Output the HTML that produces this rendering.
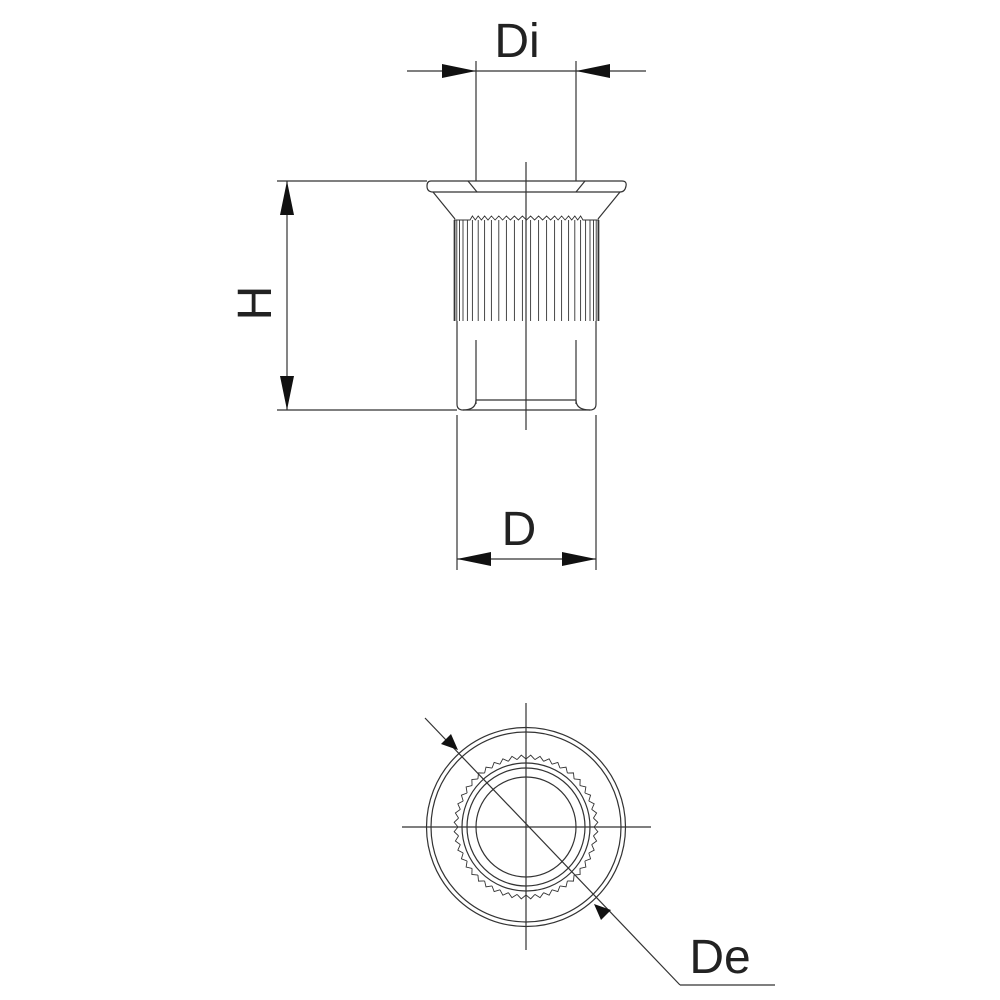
<!DOCTYPE html>
<html><head><style>html,body{margin:0;padding:0;background:#fff}svg{display:block}</style></head>
<body>
<svg width="1000" height="1000" viewBox="0 0 1000 1000" xmlns="http://www.w3.org/2000/svg">
<defs>
<path id="t1" d="M68,0 L71.846,4.709 L67.418,8.876"/>
<g id="t2"><use href="#t1"/><use href="#t1" transform="rotate(7.5)"/></g>
<g id="t4"><use href="#t2"/><use href="#t2" transform="rotate(15)"/></g>
<g id="t8"><use href="#t4"/><use href="#t4" transform="rotate(30)"/></g>
<g id="t16"><use href="#t8"/><use href="#t8" transform="rotate(60)"/></g>
</defs>
<g stroke="#333" stroke-width="1.2" fill="none">
<line x1="476" y1="61" x2="476" y2="181"/>
<line x1="576" y1="61" x2="576" y2="181"/>
<line x1="407" y1="71" x2="646" y2="71"/>
<line x1="526" y1="162" x2="526" y2="430"/>
<line x1="277" y1="181" x2="427" y2="181"/>
<line x1="277" y1="410" x2="457" y2="410"/>
<line x1="287" y1="181" x2="287" y2="410"/>
<line x1="457" y1="415" x2="457" y2="570"/>
<line x1="596" y1="415" x2="596" y2="570"/>
<line x1="457" y1="559" x2="596" y2="559"/>
<path d="M431,181 H622 Q627,181 626,186 Q625,192 620,192 H433 Q427,192 427,186 Q427,181 431,181 Z"/>
<line x1="468" y1="181" x2="477" y2="192"/>
<line x1="585" y1="181" x2="576" y2="192"/>
<line x1="433" y1="192" x2="455" y2="219"/>
<line x1="620" y1="192" x2="598" y2="219"/>
<line x1="457" y1="321" x2="457" y2="404"/>
<line x1="596" y1="321" x2="596" y2="404"/>
<path d="M457,404 Q457,410 463,410 H590 Q596,410 596,404"/>
<line x1="476" y1="340" x2="476" y2="404"/>
<line x1="576" y1="340" x2="576" y2="404"/>
<path d="M463,410 Q476,410 476,400"/>
<path d="M590,410 Q576,410 576,400"/>
<line x1="476" y1="400" x2="576" y2="400"/>
<line x1="526" y1="703" x2="526" y2="950"/>
<line x1="402" y1="827" x2="651" y2="827"/>
<line x1="425" y1="718" x2="680" y2="985"/>
<line x1="680" y1="985" x2="775" y2="985"/>
<circle cx="526" cy="827" r="99.5"/>
<circle cx="526" cy="827" r="95"/>
<circle cx="526" cy="827" r="64"/>
<circle cx="526" cy="827" r="59"/>
<circle cx="526" cy="827" r="50"/>
</g>
<g stroke="#333" stroke-width="0.9" fill="none">
<path d="M454.1,220V321M455,220V321M456.8,220V321M459.5,220V321M463,220V321M467.4,220V321M472.4,220V321M478.2,220V321M484.6,220V321M491.4,220V321M498.8,220V321M506.4,220V321M514.4,220V321M522.4,220V321M530.6,220V321M538.6,220V321M546.6,220V321M554.6,220V321M561.6,220V321M568.6,220V321M574.8,220V321M580.6,220V321M585.6,220V321M590,220V321M593.5,220V321M596.2,220V321M598,220V321M598.9,220V321"/>
<path d="M454,220 L470,220 L472.4,216 L475.3,220 L478.2,216 L481.4,220 L484.6,216 L488,220 L491.4,216 L495.1,220 L498.8,216 L502.6,220 L506.4,216 L510.4,220 L514.4,216 L518.4,220 L522.4,216 L526.5,220 L530.6,216 L534.6,220 L538.6,216 L542.6,220 L546.6,216 L550.6,220 L554.6,216 L558.1,220 L561.6,216 L565.1,220 L568.6,216 L571.7,220 L574.8,216 L577.7,220 L580.6,216 L583,220 L599,220"/>
<g transform="translate(526,827)">
<use href="#t16"/><use href="#t16" transform="rotate(120)"/><use href="#t16" transform="rotate(240)"/>
</g>
</g>
<g fill="#111">
<polygon points="476,71 442,64 442,78"/>
<polygon points="576,71 610,64 610,78"/>
<polygon points="287,181 280,215 294,215"/>
<polygon points="287,410 280,376 294,376"/>
<polygon points="457,559 491,552 491,566"/>
<polygon points="596,559 562,552 562,566"/>
<polygon points="458,750 441,744 451,734"/>
<polygon points="594,904 611,910 601,920"/>
</g>
<g font-family="'Liberation Sans',sans-serif" font-size="48" fill="#222">
<text x="517" y="57" text-anchor="middle">Di</text>
<text x="519" y="545" text-anchor="middle">D</text>
<text x="720" y="973" text-anchor="middle">De</text>
<text transform="translate(271,303) rotate(-90)" text-anchor="middle">H</text>
</g>
</svg>
</body></html>
